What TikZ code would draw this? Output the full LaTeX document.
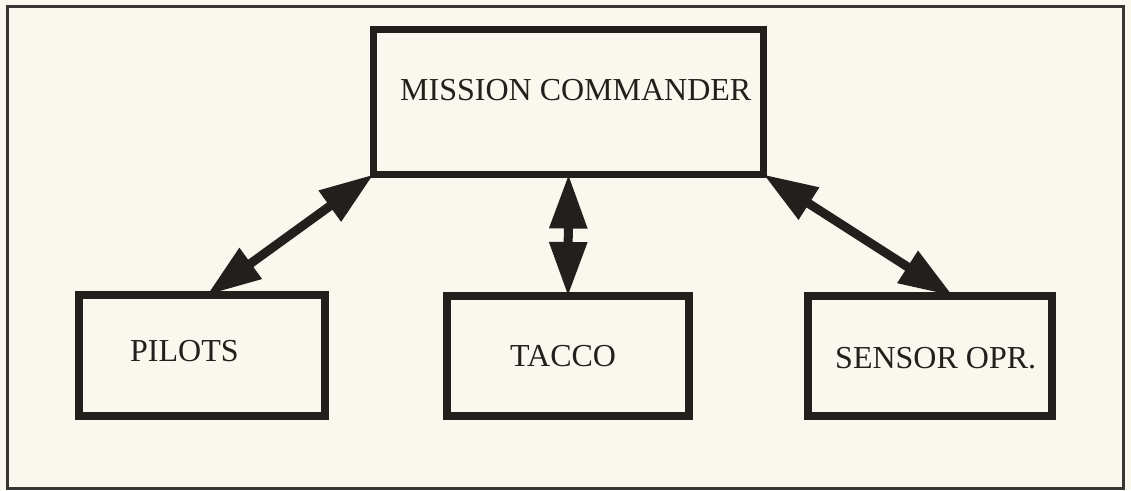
\documentclass[tikz,border=0pt]{standalone}
\usepackage{fontspec}
\setmainfont{Liberation Serif}
\usetikzlibrary{arrows.meta}
\definecolor{paper}{RGB}{249,248,238}
\definecolor{ink}{RGB}{35,31,28}
\begin{document}
\begin{tikzpicture}[x=1pt,y=-1pt,
  box/.style={draw=ink, line width=7.5pt, inner sep=0pt, outer sep=0pt},
  lbl/.style={font=\fontsize{32}{38}\selectfont, text=ink, anchor=base west, inner sep=0pt},
  link/.style={draw=ink, line width=9pt, {Triangle[length=54pt,width=36pt]}-{Triangle[length=54pt,width=36pt]}}]
\fill[paper] (0,0) rectangle (1131,490);
\useasboundingbox (0,0) rectangle (1131,490);
\draw[ink!90, line width=3pt] (7.5,6.5) rectangle (1123.5,488);
% boxes
\node[box, minimum width=390pt, minimum height=145pt] (mc) at (568.5,102) {};
\node[box, minimum width=246pt, minimum height=121pt] (pilots) at (202,355.5) {};
\node[box, minimum width=242pt, minimum height=120pt] (tacco) at (568,356) {};
\node[box, minimum width=244pt, minimum height=120pt] (sensor) at (930,356) {};
% labels
\node[lbl] (mct) at (400,100) {MISSION COMMANDER};
\node[lbl] (pt) at (130,361) {PILOTS};
\node[lbl] (tt) at (510,366) {TACCO};
\node[lbl] (st) at (835,368) {SENSOR OPR.};
% connectors
\draw[link] (mc.south west) -- ([xshift=5pt]pilots.north);
\draw[link] (mc.south) -- (tacco.north);
\draw[link] (mc.south east) -- ([xshift=23pt]sensor.north);
\end{tikzpicture}
\end{document}
